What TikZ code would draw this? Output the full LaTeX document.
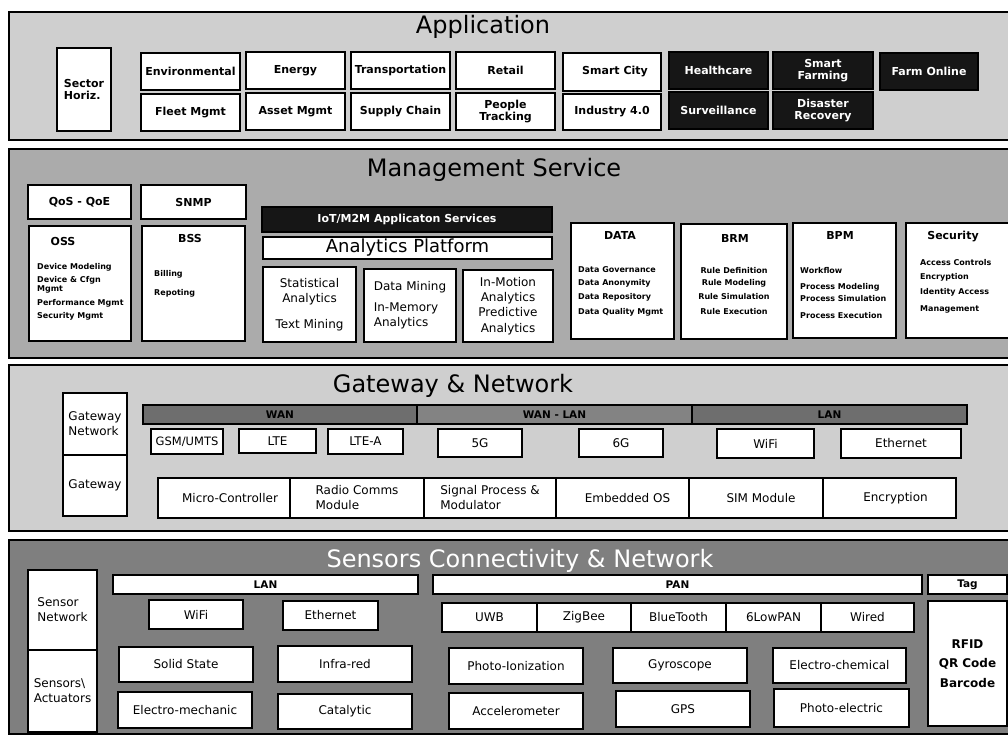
\documentclass[tikz,border=0pt]{standalone}
\usepackage{fontspec}
\setmainfont{DejaVu Sans}
\usetikzlibrary{positioning}

\definecolor{appgray}{HTML}{CFCFCF}
\definecolor{mgtgray}{HTML}{ABABAB}
\definecolor{sengray}{HTML}{7F7F7F}
\definecolor{wangray}{HTML}{6E6E6E}
\definecolor{wlgray}{HTML}{838383}
\definecolor{boxblack}{HTML}{161616}

\begin{document}
\begin{tikzpicture}[x=1pt, y=-1pt,
    panel/.style={draw, line width=1.8pt, inner sep=0pt, outer sep=0pt, anchor=north west, minimum width=1012pt},
    box/.style={draw, line width=1.5pt, fill=white, inner sep=0pt, outer sep=0pt, anchor=north west, align=center},
    dbox/.style={box, fill=boxblack, text=white},
    bar/.style={box, fill=wangray},
    ttl/.style={font=\fontsize{24}{28}\selectfont, anchor=base},
    bb/.style={font=\fontsize{11}{12.5}\selectfont\bfseries},
    hb/.style={font=\fontsize{10.5}{12}\selectfont\bfseries},
    sb/.style={font=\fontsize{8}{14.5}\selectfont\bfseries, inner sep=0pt},
    rg/.style={font=\fontsize{12}{15}\selectfont}]

\useasboundingbox (0,0) rectangle (1008,735);
\clip (0,0) rectangle (1008,735);

% ---- Application
\node[panel, fill=appgray, minimum height=128pt] (app) at (9,12) {};
\node[ttl] (appt) at (483,34) {Application};
\node[box, bb, align=left, minimum width=54pt, minimum height=83pt] (sect) at (57,48) {Sector\\Horiz.};

\node[box, bb, minimum width=99pt, minimum height=37pt] (env) at (141,53) {Environmental};
\node[box, bb, minimum width=99pt, minimum height=37pt] (energy) at (246,52) {Energy};
\node[box, bb, minimum width=99pt, minimum height=37pt] (transp) at (351,52) {Transportation};
\node[box, bb, minimum width=99pt, minimum height=37pt] (retail) at (456,52) {Retail};
\node[box, bb, minimum width=98pt, minimum height=38pt] (scity) at (563,53) {\hspace*{6pt}Smart City};
\node[dbox, bb, minimum width=99pt, minimum height=37pt] (health) at (669,52) {Healthcare};
\node[dbox, bb, minimum width=100pt, minimum height=37pt] (sfarm) at (773,52) {Smart\\Farming};
\node[dbox, bb, minimum width=98pt, minimum height=37pt] (fonline) at (880,53) {Farm Online};

\node[box, bb, minimum width=99pt, minimum height=37pt] (fleet) at (141,94) {Fleet Mgmt};
\node[box, bb, minimum width=99pt, minimum height=37pt] (asset) at (246,93) {Asset Mgmt};
\node[box, bb, minimum width=99pt, minimum height=37pt] (supply) at (351,93) {Supply Chain};
\node[box, bb, minimum width=99pt, minimum height=37pt] (people) at (456,93) {People\\Tracking};
\node[box, bb, minimum width=98pt, minimum height=36pt] (indus) at (563,94) {Industry 4.0};
\node[dbox, bb, minimum width=99pt, minimum height=37pt] (surv) at (669,92) {Surveillance};
\node[dbox, bb, minimum width=100pt, minimum height=37pt] (disast) at (773,92) {Disaster\\Recovery};

% ---- Management Service
\node[panel, fill=mgtgray, minimum height=209pt] (mgt) at (9,149) {};
\node[ttl] (mgtt) at (494,177) {Management Service};

\node[box, bb, minimum width=103pt, minimum height=34pt] (qos) at (28,185) {QoS - QoE};
\node[box, bb, minimum width=105pt, minimum height=34pt] (snmp) at (141,185) {SNMP};
\node[box, minimum width=102pt, minimum height=115pt] (oss) at (29,226) {};
\node[box, minimum width=103pt, minimum height=115pt] (bss) at (142,226) {};
\node[bb, anchor=base] (osst) at (63,245) {OSS};
\node[sb, anchor=north west, align=left, font=\fontsize{8}{13}\selectfont\bfseries] (ossl) at (37,263)
    {Device Modeling\\Device \& Cfgn\\[-4pt]Mgmt\\[1pt]Performance Mgmt\\Security Mgmt};
\node[bb, anchor=base] (bsst) at (190,243) {BSS};
\node[sb, anchor=north west, align=left] (bssl) at (154,270) {Billing\\[4.5pt]Repoting};

\node[dbox, bb, minimum width=290pt, minimum height=25pt] (iot) at (262,207) {IoT/M2M Applicaton Services};
\node[box, font=\fontsize{18}{20}\selectfont, minimum width=289pt, minimum height=22pt] (ap) at (263,237) {Analytics Platform};
\node[box, rg, minimum width=93pt, minimum height=75pt] (stat) at (263,267) {Statistical\\Analytics\\[11pt]Text Mining};
\node[box, rg, align=left, minimum width=92pt, minimum height=73pt] (dmin) at (364,269) {Data Mining\\[6pt]In-Memory\\Analytics};
\node[box, rg, font=\fontsize{12}{15.3}\selectfont, minimum width=90pt, minimum height=72pt] (imot) at (463,270) {In-Motion\\Analytics\\Predictive\\Analytics};

\node[box, minimum width=103pt, minimum height=116pt] (data) at (571,223) {};
\node[bb, anchor=base] (datat) at (620,240) {DATA};
\node[sb, anchor=north west, align=left] (datal) at (578,266)
    {Data Governance\\[-1.5pt]Data Anonymity\\Data Repository\\Data Quality Mgmt};
\node[box, minimum width=106pt, minimum height=115pt] (brm) at (681,224) {};
\node[bb, anchor=base] (brmt) at (735,242) {BRM};
\node[sb, anchor=north, align=center] (brml) at (734,267)
    {Rule Definition\\[-2.5pt]Rule Modeling\\Rule Simulation\\Rule Execution};
\node[box, minimum width=103pt, minimum height=115pt] (bpm) at (793,223) {};
\node[bb, anchor=base] (bpmt) at (840,240) {BPM};
\node[sb, anchor=north west, align=left] (bpml) at (800,267)
    {Workflow\\[1.5pt]Process Modeling\\[-2.5pt]Process Simulation\\[2.5pt]Process Execution};
\node[box, minimum width=112pt, minimum height=115pt] (secu) at (906,223) {};
\node[bb, anchor=base] (secut) at (953,240) {Security};
\node[sb, anchor=north west, align=left] (secul) at (920,259)
    {Access Controls\\Encryption\\Identity Access\\[2.5pt]Management};

% ---- Gateway & Network
\node[panel, fill=appgray, minimum height=166pt] (gwn) at (9,365) {};
\node[ttl] (gwnt) at (453,392) {Gateway \& Network};

\node[box, rg, align=left, minimum width=64pt, minimum height=62pt] (gwnet) at (63,393) {Gateway\\Network};
\node[box, rg, minimum width=64pt, minimum height=61pt] (gw) at (63,455) {Gateway};

\node[bar, hb, minimum width=274pt, minimum height=19pt] (wan) at (143,405) {WAN};
\node[bar, hb, fill=wlgray, minimum width=275pt, minimum height=19pt, right=0pt of wan] (wanlan) {WAN - LAN};
\node[bar, hb, minimum width=275pt, minimum height=19pt, right=0pt of wanlan] (lan) {LAN};

\node[box, rg, font=\fontsize{11.5}{14}\selectfont, minimum width=72pt, minimum height=25pt] (gsm) at (151,429) {GSM/UMTS};
\node[box, rg, minimum width=77pt, minimum height=24pt] (lte) at (239,429) {LTE};
\node[box, rg, minimum width=75pt, minimum height=25pt] (ltea) at (328,429) {LTE-A};
\node[box, rg, minimum width=84pt, minimum height=28pt] (gfive) at (438,429) {5G};
\node[box, rg, minimum width=84pt, minimum height=28pt] (gsix) at (579,429) {6G};
\node[box, rg, minimum width=97pt, minimum height=29pt] (wifi) at (717,429) {WiFi};
\node[box, rg, minimum width=120pt, minimum height=29pt] (eth) at (841,429) {Ethernet};

\node[box, rg, minimum width=132pt, minimum height=40pt] (mc) at (158,478) {\hspace*{12pt}Micro-Controller};
\node[box, rg, align=left, minimum width=134pt, minimum height=40pt, right=0pt of mc] (rcm) {Radio Comms\\Module};
\node[box, rg, align=left, minimum width=132pt, minimum height=40pt, right=0pt of rcm] (spm) {Signal Process \&\\Modulator};
\node[box, rg, minimum width=133pt, minimum height=40pt, right=0pt of spm] (eos) {\hspace*{10pt}Embedded OS};
\node[box, rg, minimum width=134pt, minimum height=40pt, right=0pt of eos] (sim) {\hspace*{10pt}SIM Module};
\node[box, rg, minimum width=133pt, minimum height=40pt, right=0pt of sim] (enc) {\hspace*{12pt}Encryption};

% ---- Sensors Connectivity & Network
\node[panel, fill=sengray, minimum height=194pt] (sen) at (9,540) {};
\node[ttl, text=white] (sent) at (520,567) {Sensors Connectivity \& Network};

\node[box, rg, align=left, minimum width=69pt, minimum height=80pt] (snet) at (28,570) {Sensor\\Network};
\node[box, rg, align=left, minimum width=69pt, minimum height=82pt] (sact) at (28,650) {Sensors\textbackslash\\Actuators};

\node[box, hb, minimum width=305pt, minimum height=19pt] (slan) at (113,575) {LAN};
\node[box, hb, minimum width=489pt, minimum height=19pt] (pan) at (433,575) {PAN};
\node[box, hb, minimum width=79pt, minimum height=19pt] (tag) at (928,575) {Tag};

\node[box, rg, minimum width=94pt, minimum height=29pt] (swifi) at (149,600) {WiFi};
\node[box, rg, minimum width=95pt, minimum height=29pt] (seth) at (283,601) {Ethernet};
\node[box, rg, minimum width=95pt, minimum height=29pt] (uwb) at (442,603) {UWB};
\node[box, rg, minimum width=94pt, minimum height=29pt, right=0pt of uwb] (zig) {ZigBee};
\node[box, rg, minimum width=95pt, minimum height=29pt, right=0pt of zig] (bt) {BlueTooth};
\node[box, rg, minimum width=95pt, minimum height=29pt, right=0pt of bt] (lowpan) {6LowPAN};
\node[box, rg, minimum width=93pt, minimum height=29pt, right=0pt of lowpan] (wired) {Wired};
\node[box, font=\fontsize{12}{19.5}\selectfont\bfseries, minimum width=79pt, minimum height=125pt] (tags) at (928,601) {RFID\\QR Code\\Barcode};

\node[box, rg, minimum width=134pt, minimum height=35pt] (solid) at (119,647) {Solid State};
\node[box, rg, minimum width=134pt, minimum height=36pt] (infra) at (278,646) {Infra-red};
\node[box, rg, minimum width=134pt, minimum height=36pt] (photoi) at (449,648) {Photo-Ionization};
\node[box, rg, minimum width=134pt, minimum height=35pt] (gyro) at (613,648) {Gyroscope};
\node[box, rg, minimum width=133pt, minimum height=35pt] (echem) at (773,648) {Electro-chemical};

\node[box, rg, minimum width=134pt, minimum height=36pt] (emech) at (118,692) {Electro-mechanic};
\node[box, rg, minimum width=134pt, minimum height=35pt] (catal) at (278,694) {Catalytic};
\node[box, rg, minimum width=134pt, minimum height=36pt] (accel) at (449,693) {Accelerometer};
\node[box, rg, minimum width=134pt, minimum height=36pt] (gps) at (616,691) {GPS};
\node[box, rg, minimum width=135pt, minimum height=38pt] (pelec) at (774,689) {Photo-electric};

\end{tikzpicture}
\end{document}
